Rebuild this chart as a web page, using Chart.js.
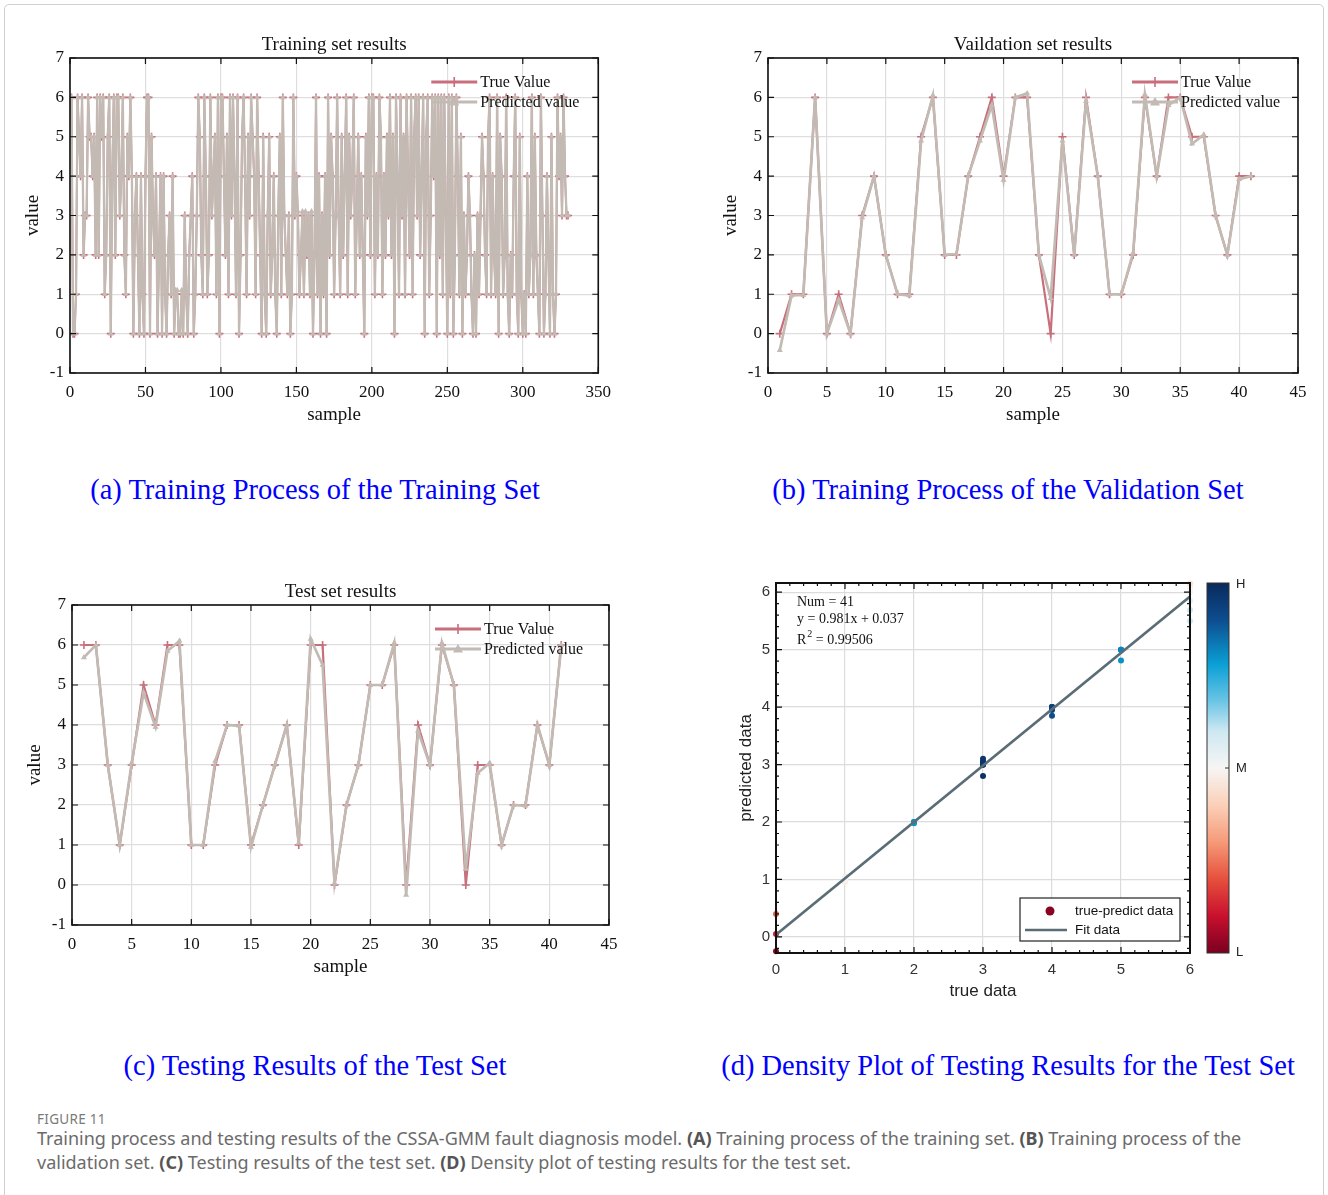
<!DOCTYPE html>
<html>
<head>
<meta charset="utf-8">
<script src="https://cdn.jsdelivr.net/npm/chart.js@4.4.1/dist/chart.umd.min.js"></script>
<style>
  body { margin: 0; background: #fff; width: 1328px; height: 1195px; position: relative; overflow: hidden; }
  .frame { position: absolute; left: 4px; top: 4px; width: 1318px; height: 1210px; border: 1px solid #d0d0d0; border-radius: 5px; }
  .box { position: absolute; }
  .cap { position: absolute; color: #0000ff; font-family: "Liberation Serif", serif; font-size: 28.5px; white-space: nowrap; transform: translate(-50%, -50%); }
  .fig { position: absolute; left: 37px; top: 1110px; font-family: "Noto Sans", sans-serif; font-size: 13.5px; color: #7a7a7a; letter-spacing: 0.3px; }
  .desc { position: absolute; left: 37px; top: 1126px; font-family: "Noto Sans", sans-serif; font-size: 18px; line-height: 24px; color: #6b6b6b; white-space: nowrap; }
  .desc b { color: #555; }
</style>
</head>
<body>
<div class="frame"></div>

<div class="box" style="left:20px;top:30px;width:600px;height:400px"><canvas id="cTrain"></canvas></div>
<div class="box" style="left:718px;top:30px;width:600px;height:400px"><canvas id="cVal"></canvas></div>
<div class="box" style="left:22px;top:577px;width:607px;height:405px"><canvas id="cTest"></canvas></div>
<div class="box" style="left:726px;top:560px;width:540px;height:460px"><canvas id="cDens"></canvas></div>

<div class="cap" style="left:315px;top:490px">(a) Training Process of the Training Set</div>
<div class="cap" style="left:1008px;top:490px">(b) Training Process of the Validation Set</div>
<div class="cap" style="left:315px;top:1066px">(c) Testing Results of the Test Set</div>
<div class="cap" style="left:1008px;top:1066px">(d) Density Plot of Testing Results for the Test Set</div>

<div class="fig">FIGURE 11</div>
<div class="desc">Training process and testing results of the CSSA-GMM fault diagnosis model. <b>(A)</b> Training process of the training set. <b>(B)</b> Training process of the<br>validation set. <b>(C)</b> Testing results of the test set. <b>(D)</b> Density plot of testing results for the test set.</div>

<script>
// ---- 데이터 ----
const trainTrue = [
  6,0,0,1,6,5,4,6,2,3, 3,6,5,5,4,5,2,6,2,6, 5,6,1,2,5,6,0,4,6,2, 6,6,3,4,6,2,1,5,4,6,
  4,0,3,4,2,0,4,1,0,4, 6,6,0,5,3,2,4,0,2,4, 0,4,1,0,2,3,1,4,0,1, 1,0,0,1,0,3,1,0,2,3,
  4,0,1,3,6,5,2,1,6,4, 1,2,6,3,4,5,1,6,0,6, 6,4,2,5,1,6,3,6,4,1, 6,0,2,5,6,4,1,5,3,6,
  5,4,1,6,4,2,0,5,1,0, 3,5,1,2,4,1,0,3,5,1, 6,3,2,1,3,0,1,6,3,4, 3,1,2,3,1,3,2,3,1,3,
  0,2,6,1,4,0,3,1,4,0, 6,2,5,4,1,3,6,3,1,5, 2,4,6,1,5,3,4,6,1,3, 5,2,4,2,0,5,3,6,2,6,
  6,1,4,2,6,5,1,4,2,5, 3,6,2,5,0,6,4,1,6,3, 5,1,6,4,2,6,1,5,6,3, 6,2,4,6,0,5,6,1,3,6,
  4,6,0,6,2,6,1,6,3,0, 6,1,6,0,2,6,4,1,5,0, 3,1,2,4,3,1,0,2,0,3, 1,3,5,4,2,1,5,6,1,4,
  2,1,6,0,5,4,1,2,6,1, 0,2,1,4,6,1,0,5,1,0, 1,0,4,1,2,6,1,5,2,1, 0,6,3,0,1,4,2,0,5,1,
  0,1,6,4,5,3,6,4,3,3
];
const trainPred = [
  6,0,0,1,6,5,4,6,2,3, 3,6,5,5,4,5,2,6,2,6, 5,6,1,2,5,6,0,4,6,2, 6,6,3,4,6,2,1,5,4,6,
  4,0,3,4,2,0,4,1,0,4, 6,6,0,5,3,2,4,0,2,4, 0,4,1,0,2,3,1,4,0,1.1, 1.1,0,0,1.1,0,3,1,0,2,3,
  4,0,1,3,6,5,2,1,6,4, 1,2,6,3,4,5,1,6,0,6, 6,4,2,5,1,6,3,6,4,1, 6,0,2,5,6,4,1,5,3,6,
  5,4,1,6,4,2,0,5,1,0, 3,5,1,2,4,1,0,3,5,1, 6,3,2,1,3,0,1,6,3,4, 3.1,1,2,3.1,1,3.1,2,3,1,3.1,
  0,2,6,1,4,0,3,1,4,0, 6,2,5,4,1,3,6,3,1,5, 2,4,6,1,5,3,4,6,1,3, 5,2,4,2,0,5,3,6,2,6,
  6,1,4,2,6,5,1,4,2,5, 3,6,2,5,0,6,4,1,6,3, 5,1,6,4,2,6,1,5,6,3, 6,2,4,6,0,5,6,1,3,6,
  4,6,0,6,2,6,1,6,3,0, 6,1,6,0,2,6,4,1,5,0, 3,1,2,4,3,1,0,2,0,3, 1,3,5,4,2,1,5,6,1,4,
  2,1,6,0,5,4,1,2,6,1, 0,2,1,4,6,1,0,5,1,0, 1,0,4,1,2,6,1,5,2,1, 0,6,3,0,1,4,2,0,5,1,
  0,1,6,4,5,3,6,4,3,3
];

const valTrue = [0,1,1,6,0,1,0,3,4,2, 1,1,5,6,2,2,4,5,6,4, 6,6,2,0,5,2,6,4,1,1, 2,6,4,6,6,5,5,3,2,4, 4];
const valPred = [-0.42,0.97,0.98,6,0,0.86,0,2.95,4,2, 1,0.97,4.9,6.05,2,2.02,4,4.9,5.8,3.9, 6,6.1,2,0.9,4.9,2,5.9,4,1,1, 2.05,6.07,4,5.8,6,4.82,5.05,3,2,3.92, 4];

const testTrue = [6,6,3,1,3,5,4,6,6,1, 1,3,4,4,1,2,3,4,1,6, 6,0,2,3,5,5,6,0,4,3, 6,5,0,3,3,1,2,2,4,3, 6];
const testPred = [5.69,6,3,1,3.05,4.81,3.95,5.85,6.1,1, 1,3.1,4,3.98,0.95,2,3,4,1.05,6.15, 5.5,0.05,2,3,5,5,6.05,-0.25,3.85,3, 6.05,5,0.4,2.8,3.05,1,2,1.98,4,3, 6];
// 산점도 밀도 (L=0 ~ H=1), 그림의 점 색으로 추정
const testDensity = [0.6,0.5,0.97,0.5,0.97,0.8,0.93,0.55,0.48,0.5, 0.5,0.96,0.93,0.93,0.48,0.8,0.97,0.93,0.48,0.45, 0.6,0.12,0.8,0.97,0.82,0.82,0.5,0.03,0.9,0.97, 0.5,0.82,0.22,0.98,0.97,0.5,0.8,0.8,0.93,0.97, 0.5];

const fitX = [0, 6];
const fitY = [0.037, 5.923];
const statLines = ['Num = 41', 'y = 0.981x + 0.037', '0.99506'];

const trainXTicks = [0,50,100,150,200,250,300,350];
const setXTicks = [0,5,10,15,20,25,30,35,40,45];
const valueTicks = [-1,0,1,2,3,4,5,6,7];
const densTicks = [0,1,2,3,4,5,6];

// ---- 스타일 ----
const SERIF = '"Liberation Serif", "Times New Roman", serif';
const SANS = '"Liberation Sans", Arial, sans-serif';
const TRUE_C = '#c86f7c';
const PRED_C = '#c2bab3';
const FIT_C = '#5a6d77';
const CMAP = [[0,'#7a0020'],[0.1,'#c8102e'],[0.2,'#e6503c'],[0.3,'#f59a78'],[0.4,'#fbd0b8'],[0.5,'#f7f5f4'],
              [0.6,'#cde8f2'],[0.68,'#6cc5e5'],[0.78,'#0aa0d5'],[0.9,'#0d4d8f'],[1,'#0a2a5c']];

function hex(c) { return [1,3,5].map(i => parseInt(c.substr(i, 2), 16)); }
function cmap(v) {
  for (let i = 1; i < CMAP.length; i++) {
    if (v <= CMAP[i][0]) {
      const [p0, c0] = CMAP[i-1], [p1, c1] = CMAP[i];
      const t = (v - p0) / (p1 - p0), a = hex(c0), b = hex(c1);
      return 'rgb(' + a.map((x, k) => Math.round(x + (b[k] - x) * t)).join(',') + ')';
    }
  }
  return CMAP[CMAP.length-1][1];
}

function drawMark(ctx, style, x, y, r) {
  ctx.beginPath();
  if (style === 'cross') {
    ctx.moveTo(x - r, y); ctx.lineTo(x + r, y); ctx.moveTo(x, y - r); ctx.lineTo(x, y + r);
    ctx.lineWidth = 1.6; ctx.stroke();
  } else {
    ctx.moveTo(x, y - r); ctx.lineTo(x + r, y + r * 0.7); ctx.lineTo(x - r, y + r * 0.7); ctx.closePath();
    ctx.fill();
  }
}

// MATLAB 식 상자 + 안쪽 눈금 + 제목
const axesBox = {
  id: 'axesBox',
  afterDatasetsDraw(chart, args, o) {
    const { ctx, chartArea: a, scales: { x, y } } = chart;
    ctx.save();
    ctx.strokeStyle = '#111';
    ctx.lineWidth = o.lw || 1.6;
    ctx.strokeRect(a.left, a.top, a.right - a.left, a.bottom - a.top);
    ctx.lineWidth = 1.2;
    ctx.beginPath();
    const tk = o.tick || 6;
    x.ticks.forEach(t => {
      const p = x.getPixelForValue(t.value);
      ctx.moveTo(p, a.bottom); ctx.lineTo(p, a.bottom - tk);
      ctx.moveTo(p, a.top); ctx.lineTo(p, a.top + tk);
    });
    y.ticks.forEach(t => {
      const p = y.getPixelForValue(t.value);
      ctx.moveTo(a.left, p); ctx.lineTo(a.left + tk, p);
      ctx.moveTo(a.right, p); ctx.lineTo(a.right - tk, p);
    });
    if (o.minor) {
      for (let v = x.min; v <= x.max + 1e-9; v += o.minor) {
        const p = x.getPixelForValue(v);
        ctx.moveTo(p, a.bottom); ctx.lineTo(p, a.bottom - 3);
        ctx.moveTo(p, a.top); ctx.lineTo(p, a.top + 3);
      }
      for (let v = -0.2; v <= y.max + 1e-9; v += o.minor) {
        const p = y.getPixelForValue(v);
        ctx.moveTo(a.left, p); ctx.lineTo(a.left + 3, p);
        ctx.moveTo(a.right, p); ctx.lineTo(a.right - 3, p);
      }
    }
    ctx.stroke();
    if (o.title) {
      ctx.fillStyle = '#111';
      ctx.font = '19px ' + SERIF;
      ctx.textAlign = 'center';
      ctx.textBaseline = 'bottom';
      ctx.fillText(o.title, (a.left + a.right) / 2, a.top - 3);
    }
    ctx.restore();
  }
};

// 선 + 마커 범례
const lineLegend = {
  id: 'lineLegend',
  afterDraw(chart, args, o) {
    if (!o || !o.dx) return;
    const { ctx, chartArea: a } = chart;
    ctx.save();
    chart.data.datasets.forEach((ds, i) => {
      const x0 = a.right - o.dx, x1 = x0 + o.len, y = a.top + 24 + i * 20;
      ctx.strokeStyle = ds.borderColor; ctx.fillStyle = ds.borderColor;
      ctx.lineWidth = 3;
      ctx.beginPath(); ctx.moveTo(x0, y); ctx.lineTo(x1, y); ctx.stroke();
      drawMark(ctx, ds.pointStyle, (x0 + x1) / 2, y, 5);
      ctx.fillStyle = '#111';
      ctx.font = '16px ' + SERIF;
      ctx.textAlign = 'left';
      ctx.textBaseline = 'middle';
      ctx.fillText(ds.label, x1 + 3, y + 1);
    });
    ctx.restore();
  }
};

// 밀도 그림: 컬러바, 통계 텍스트, 범례
const densDecor = {
  id: 'densDecor',
  afterDraw(chart) {
    const { ctx, chartArea: a } = chart;
    ctx.save();
    // 컬러바
    const cx = a.right + 17, cw = 22;
    const g = ctx.createLinearGradient(0, a.bottom, 0, a.top);
    CMAP.forEach(([p, c]) => g.addColorStop(p, c));
    ctx.fillStyle = g;
    ctx.fillRect(cx, a.top, cw, a.bottom - a.top);
    ctx.strokeStyle = '#333'; ctx.lineWidth = 1;
    ctx.strokeRect(cx, a.top, cw, a.bottom - a.top);
    const mid = (a.top + a.bottom) / 2;
    ctx.beginPath(); ctx.moveTo(cx + cw - 4, mid); ctx.lineTo(cx + cw, mid); ctx.stroke();
    ctx.fillStyle = '#222';
    ctx.font = '13px ' + SANS;
    ctx.textAlign = 'left'; ctx.textBaseline = 'middle';
    ctx.fillText('H', cx + cw + 7, a.top + 1);
    ctx.fillText('M', cx + cw + 7, mid);
    ctx.fillText('L', cx + cw + 7, a.bottom - 1);

    // 통계 텍스트
    ctx.font = '14px ' + SERIF;
    ctx.fillStyle = '#111';
    const tx = a.left + 21;
    ctx.fillText(statLines[0], tx, a.top + 19);
    ctx.fillText(statLines[1], tx, a.top + 36);
    ctx.fillText('R', tx, a.top + 57);
    const rw = ctx.measureText('R').width;
    ctx.font = '10px ' + SERIF;
    ctx.fillText('2', tx + rw + 1, a.top + 51);
    ctx.font = '14px ' + SERIF;
    ctx.fillText(' = ' + statLines[2], tx + rw + 6, a.top + 57);

    // 범례 상자
    const bw = 160, bh = 43, bx = a.right - 10 - bw, by = a.bottom - 12 - bh;
    ctx.fillStyle = '#fff';
    ctx.fillRect(bx, by, bw, bh);
    ctx.strokeStyle = '#222'; ctx.lineWidth = 1.2;
    ctx.strokeRect(bx, by, bw, bh);
    ctx.fillStyle = cmap(0.02);
    ctx.beginPath(); ctx.arc(bx + 30, by + 13, 4.5, 0, Math.PI * 2); ctx.fill();
    ctx.strokeStyle = FIT_C; ctx.lineWidth = 2.5;
    ctx.beginPath(); ctx.moveTo(bx + 5, by + 32); ctx.lineTo(bx + 47, by + 32); ctx.stroke();
    ctx.fillStyle = '#111';
    ctx.font = '13.5px ' + SANS;
    ctx.fillText('true-predict data', bx + 55, by + 13);
    ctx.fillText('Fit data', bx + 55, by + 32);
    ctx.restore();
  }
};

function lineScales(xTicks, xMax) {
  return {
    x: {
      type: 'linear', min: 0, max: xMax,
      afterBuildTicks: s => { s.ticks = xTicks.map(v => ({ value: v })); },
      afterFit: s => { s.height = 57; },
      grid: { color: '#dedede', lineWidth: 1.2, drawTicks: false },
      border: { display: false },
      ticks: { font: { family: SERIF, size: 17 }, color: '#111', padding: 9, maxRotation: 0, autoSkip: false },
      title: { display: true, text: 'sample', font: { family: SERIF, size: 19 }, color: '#111', padding: { top: 0, bottom: 4 } }
    },
    y: {
      type: 'linear', min: -1, max: 7,
      afterBuildTicks: s => { s.ticks = valueTicks.map(v => ({ value: v })); },
      afterFit: s => { s.width = 50; },
      grid: { color: '#dedede', lineWidth: 1.2, drawTicks: false },
      border: { display: false },
      ticks: { font: { family: SERIF, size: 17 }, color: '#111', padding: 6, autoSkip: false },
      title: { display: true, text: 'value', font: { family: SERIF, size: 19 }, color: '#111', padding: { top: 2, bottom: 0 } }
    }
  };
}

function lineChart(id, trueArr, predArr, xTicks, xMax, title, legendDx, lw, pad) {
  new Chart(document.getElementById(id), {
    type: 'line',
    data: {
      datasets: [
        { label: 'True Value', data: trueArr.map((v, i) => ({ x: i + 1, y: v })), borderColor: TRUE_C, backgroundColor: TRUE_C,
          borderWidth: lw, pointStyle: 'cross', pointRadius: 4, pointBorderWidth: 1.6, tension: 0, order: 2 },
        { label: 'Predicted value', data: predArr.map((v, i) => ({ x: i + 1, y: v })), borderColor: PRED_C, backgroundColor: PRED_C,
          borderWidth: lw + 0.5, pointStyle: 'triangle', pointRadius: 3.5, pointBorderWidth: 0, tension: 0, order: 1 }
      ]
    },
    options: {
      responsive: true, maintainAspectRatio: false, animation: false,
      layout: { padding: pad },
      scales: lineScales(xTicks, xMax),
      plugins: {
        legend: { display: false }, tooltip: { enabled: false },
        axesBox: { title: title },
        lineLegend: { dx: legendDx, len: 46 }
      }
    },
    plugins: [axesBox, lineLegend]
  });
}

lineChart('cTrain', trainTrue, trainPred, trainXTicks, 350, 'Training set results', 167, 1.8, { top: 28, right: 17, left: 0, bottom: 0 });
lineChart('cVal', valTrue, valPred, setXTicks, 45, 'Vaildation set results', 166, 2.2, { top: 28, right: 20, left: 0, bottom: 0 });
lineChart('cTest', testTrue, testPred, setXTicks, 45, 'Test set results', 174, 2.2, { top: 28, right: 20, left: 0, bottom: 0 });

// 밀도 산점도
new Chart(document.getElementById('cDens'), {
  type: 'scatter',
  data: {
    datasets: [
      { type: 'line', label: 'Fit data', data: fitX.map((x, i) => ({ x: x, y: fitY[i] })), borderColor: FIT_C,
        borderWidth: 2.6, pointRadius: 0, order: 0 },
      { label: 'true-predict data', data: testTrue.map((x, i) => ({ x: x, y: testPred[i] })),
        pointBackgroundColor: testDensity.map(cmap), pointBorderWidth: 0, pointRadius: 3, clip: false, order: 1 }
    ]
  },
  options: {
    responsive: true, maintainAspectRatio: false, animation: false,
    layout: { padding: { top: 23, right: 76, left: 0, bottom: 0 } },
    scales: {
      x: {
        type: 'linear', min: 0, max: 6,
        afterBuildTicks: s => { s.ticks = densTicks.map(v => ({ value: v })); },
        afterFit: s => { s.height = 67; },
        grid: { color: '#dcdcdc', lineWidth: 1.2, drawTicks: false },
        border: { display: false },
        ticks: { font: { family: SANS, size: 15 }, color: '#333', padding: 8, maxRotation: 0 },
        title: { display: true, text: 'true data', font: { family: SANS, size: 17 }, color: '#222', padding: { top: 0, bottom: 18 } }
      },
      y: {
        type: 'linear', min: -0.28, max: 6.16,
        afterBuildTicks: s => { s.ticks = densTicks.map(v => ({ value: v })); },
        afterFit: s => { s.width = 50; },
        grid: { color: '#dcdcdc', lineWidth: 1.2, drawTicks: false },
        border: { display: false },
        ticks: { font: { family: SANS, size: 15 }, color: '#333', padding: 6 },
        title: { display: true, text: 'predicted data', font: { family: SANS, size: 17 }, color: '#222', padding: { top: 10, bottom: 0 } }
      }
    },
    plugins: {
      legend: { display: false }, tooltip: { enabled: false },
      axesBox: { minor: 0.2, lw: 2 }
    }
  },
  plugins: [axesBox, densDecor]
});
</script>
</body>
</html>
